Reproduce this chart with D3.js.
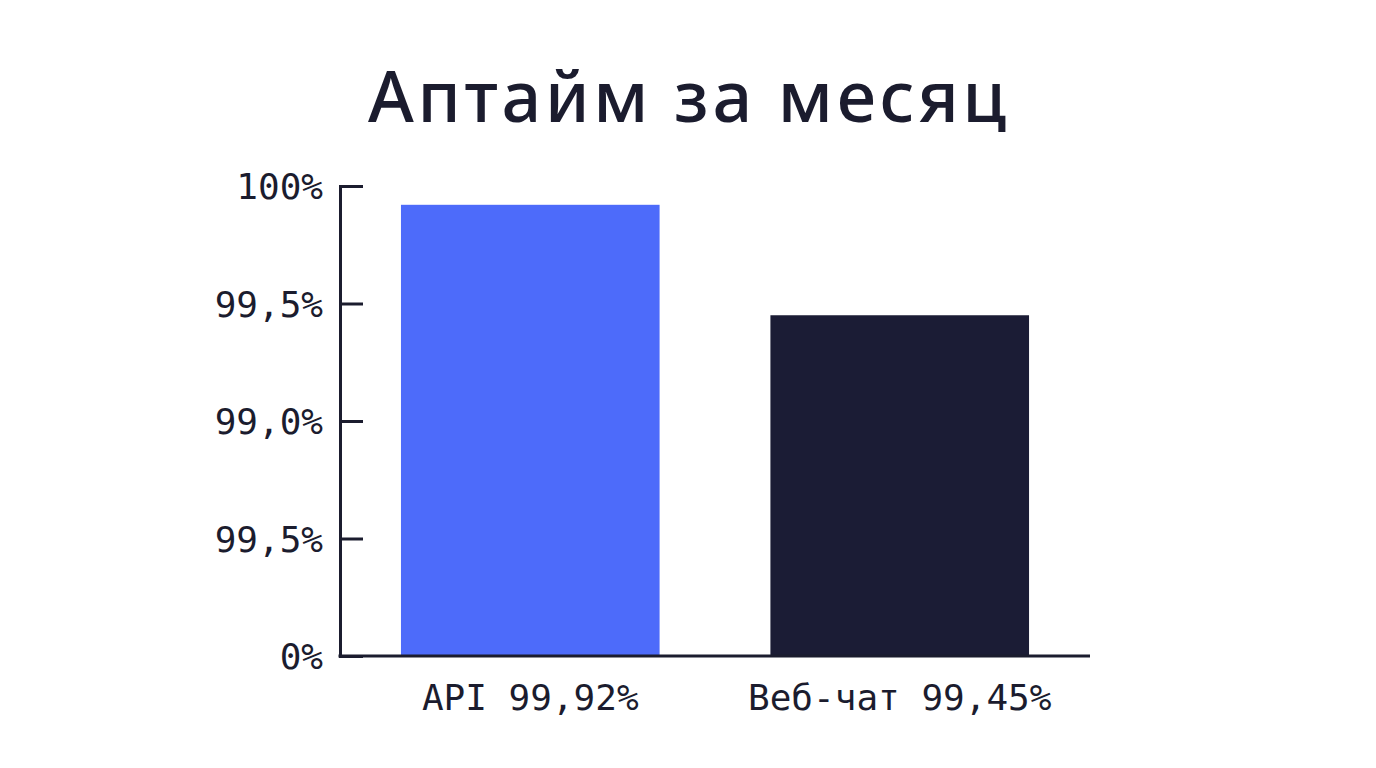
<!DOCTYPE html>
<html lang="ru">
<head>
<meta charset="UTF-8">
<title>Аптайм за месяц</title>
<script src="https://d3js.org/d3.v7.min.js"></script>
<style>
  html, body { margin: 0; padding: 0; background: #ffffff; }
  svg { display: block; }
</style>
</head>
<body>
<div id="chart"></div>
<script>
// data
const title = "Аптайм за месяц";
const categories = ["API 99,92%", "Веб-чат 99,45%"];
const values = [99.92, 99.45];
const barColors = ["#4d6bfa", "#1b1c35"];
const tickValues = [98, 98.5, 99, 99.5, 100];
const tickLabels = ["0%", "99,5%", "99,0%", "99,5%", "100%"];

const W = 1376, H = 768;
const ink = "#1b1c2e";
const mono = "'DejaVu Sans Mono', 'Liberation Mono', monospace";

const svg = d3.select("#chart")
  .append("svg")
    .attr("width", W)
    .attr("height", H);

// title
svg.append("text")
  .attr("x", 687)
  .attr("y", 122)
  .attr("text-anchor", "middle")
  .attr("textLength", 638)
  .attr("lengthAdjust", "spacing")
  .style("font-family", "'Noto Sans', sans-serif")
  .style("font-size", "70px")
  .style("font-weight", 500)
  .style("fill", ink)
  .text(title);

// scales
const x = d3.scaleBand()
  .domain(categories)
  .range([340, 1090])
  .paddingInner(0.3)
  .paddingOuter(0.165);

const y = d3.scaleLinear()
  .domain([98, 100])
  .range([656, 186]);

// bars
svg.selectAll("rect.bar")
  .data(values)
  .join("rect")
    .attr("class", "bar")
    .attr("x", (d, i) => x(categories[i]))
    .attr("y", d => y(d))
    .attr("width", x.bandwidth())
    .attr("height", d => y(98) - y(d))
    .attr("fill", (d, i) => barColors[i]);

// y axis, ticks pointing into the plot
const yAxis = svg.append("g")
  .attr("transform", "translate(340,0)")
  .call(d3.axisRight(y)
    .tickValues(tickValues)
    .tickFormat((d, i) => tickLabels[i])
    .tickSizeOuter(0)
    .tickSize(23));
yAxis.select(".domain").attr("stroke", ink).attr("stroke-width", 3);
yAxis.selectAll(".tick line").attr("stroke", ink).attr("stroke-width", 3);
yAxis.selectAll(".tick text")
  .attr("x", -17)
  .attr("dy", "0.36em")
  .attr("text-anchor", "end")
  .style("font-family", mono)
  .style("font-size", "36px")
  .style("fill", ink);

// x axis baseline with labels
const xAxis = svg.append("g")
  .attr("transform", `translate(0,${y(98)})`)
  .call(d3.axisBottom(x).tickSize(0).tickSizeOuter(0).tickPadding(0));
xAxis.select(".domain").attr("stroke", ink).attr("stroke-width", 3)
  .attr("d", "M338.5,0H1090");
xAxis.selectAll(".tick text")
  .attr("y", 54)
  .attr("dy", 0)
  .style("font-family", mono)
  .style("font-size", "36px")
  .style("fill", ink);
</script>
</body>
</html>
